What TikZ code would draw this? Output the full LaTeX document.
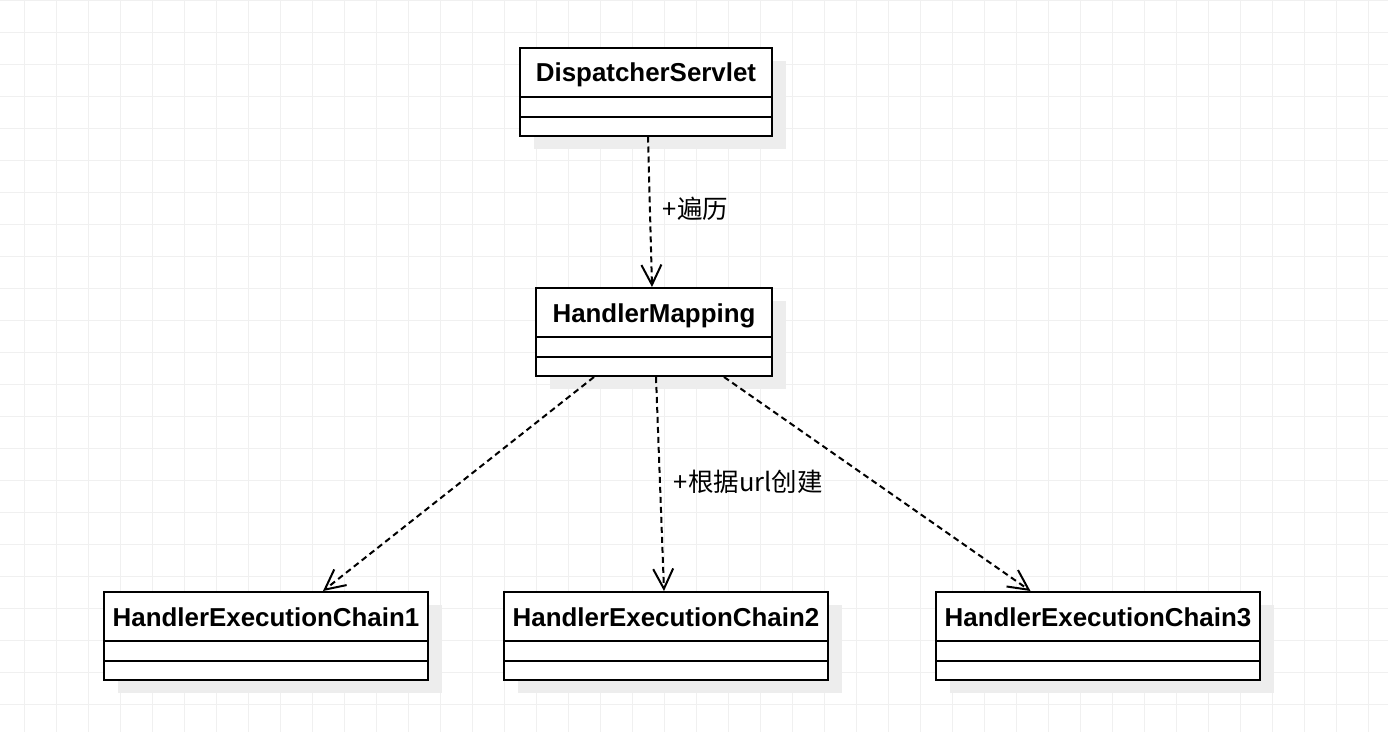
\documentclass[tikz,border=0pt]{standalone}
\usepackage{fontspec}
\setmainfont{Liberation Sans}
\newfontfamily\cjk{Noto Sans CJK SC}
\usetikzlibrary{arrows.meta,shadows}

\begin{document}
\begin{tikzpicture}[x=1pt, y=-1pt,
    gridline/.style={draw=black!6, line width=1pt},
    classbox/.style={draw, line width=2pt, fill=white, inner sep=0pt,
        minimum height=88pt, text height=34pt, text depth=54pt,
        font=\bfseries\fontsize{25.9}{30}\selectfont,
        drop shadow={shadow xshift=14pt, shadow yshift=-13pt, fill=black!7, opacity=1}},
    dep/.style={line width=2pt, dash pattern=on 6pt off 4pt,
        -{Straight Barb[length=20pt, width=20pt]}},
    lbl/.style={inner sep=0pt, anchor=west, font=\cjk\fontsize{25.5}{30}\selectfont}]
    \useasboundingbox (0, 0) rectangle (1388, 732);
    \fill[white] (0, 0) rectangle (1388, 732);
    \foreach \gx in {24, 56, ..., 1368}
        \draw[gridline] (\gx, 0) -- (\gx, 732);
    \foreach \gy in {0, 32, ..., 704}
        \draw[gridline] (0, \gy) -- (1388, \gy);

    \node[classbox, minimum width=252pt] (ds) at (646, 91.5) {DispatcherServlet};
    \node[classbox, minimum width=236pt] (hm) at (654, 332) {HandlerMapping};
    \node[classbox, minimum width=324pt] (hec1) at (266, 636) {HandlerExecutionChain1};
    \node[classbox, minimum width=324pt] (hec2) at (666, 636) {HandlerExecutionChain2};
    \node[classbox, minimum width=324pt] (hec3) at (1098, 636) {HandlerExecutionChain3};
    \foreach \n in {ds, hm, hec1, hec2, hec3}
        \foreach \d in {50, 70}
            \draw[line width=2pt] ([yshift=-\d pt]\n.north west) -- ([yshift=-\d pt]\n.north east);

    \draw[dep] ([xshift=2pt]ds.south) -- node[lbl, pos=0.48, xshift=12pt]{+遍历} ([xshift=-2pt]hm.north);
    \draw[dep] ([xshift=59pt]hm.south west) -- ([xshift=57pt]hec1.north);
    \draw[dep] ([xshift=2pt]hm.south) -- node[lbl, pos=0.49, xshift=13pt]{+根据url创建} ([xshift=-2pt]hec2.north);
    \draw[dep] ([xshift=-49pt]hm.south east) -- ([xshift=-67.5pt]hec3.north);
\end{tikzpicture}
\end{document}
